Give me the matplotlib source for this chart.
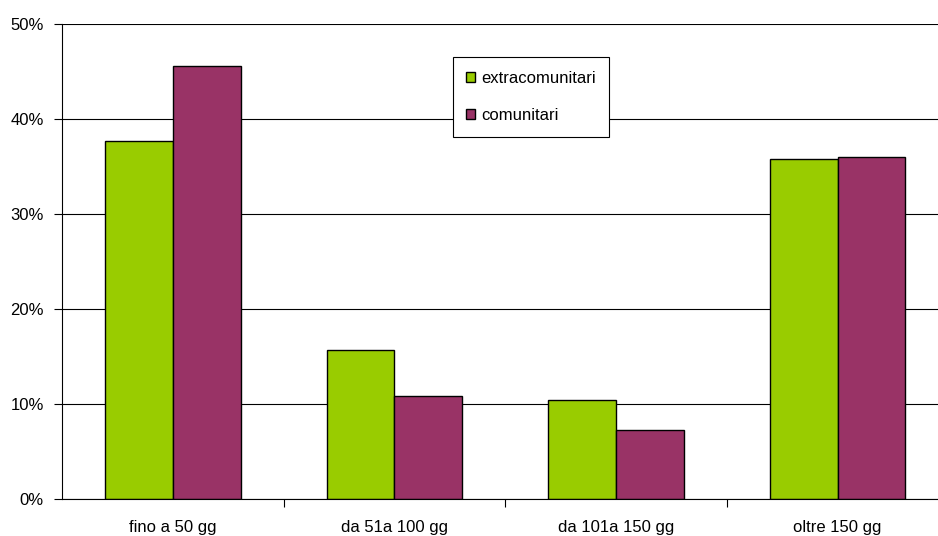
import numpy as np
import matplotlib.pyplot as plt
from matplotlib.ticker import FuncFormatter

plt.rcParams['font.family'] = ['Liberation Sans', 'DejaVu Sans']

categories = ['fino a 50 gg', 'da 51a 100 gg', 'da 101a 150 gg', 'oltre 150 gg']
extracomunitari = [37.7, 15.7, 10.4, 35.8]
comunitari = [45.6, 10.8, 7.3, 36.0]

x = np.arange(len(categories))
w = 0.306

fig = plt.figure(figsize=(9.38, 5.36), dpi=100)
# the plot area runs a little past the right edge of the picture
ax = fig.add_axes([0.066, 0.069, 0.945, 0.886])

ax.set_axisbelow(True)
ax.yaxis.grid(True, color='black', linewidth=0.8)
ax.bar(x - w / 2, extracomunitari, w, color='#99CC00', edgecolor='black', linewidth=1.0, label='extracomunitari')
ax.bar(x + w / 2, comunitari, w, color='#993366', edgecolor='black', linewidth=1.0, label='comunitari')

ax.set_xlim(-0.5, len(categories) - 0.5)
ax.set_ylim(0, 50)
ax.set_yticks(np.arange(0, 51, 10))
ax.yaxis.set_major_formatter(FuncFormatter(lambda v, p: f'{v:.0f}%'))
ax.tick_params(axis='y', length=6, width=0.8, labelsize=12, pad=7)

ax.set_xticks(x)
ax.set_xticklabels(categories, fontsize=12)
ax.set_xticks(np.arange(0.5, len(categories) - 1, 1), minor=True)
ax.tick_params(axis='x', which='major', length=0, pad=15)
ax.tick_params(axis='x', which='minor', length=6, width=0.8)

for s in ['top', 'right']:
    ax.spines[s].set_visible(False)
ax.spines['left'].set_linewidth(0.8)
ax.spines['bottom'].set_linewidth(0.8)

leg = ax.legend(loc='upper left', bbox_to_anchor=(0.441, 0.93), fontsize=12,
                frameon=True, fancybox=False, edgecolor='black', framealpha=1,
                handlelength=0.55, handleheight=0.55, handletextpad=0.35,
                labelspacing=1.35, borderpad=0.8, borderaxespad=0)
leg.get_frame().set_linewidth(0.8)
# widen the box a bit on the right, as in the original
fig.canvas.draw()
bb = leg.get_frame().get_bbox()
leg.get_frame().set_width(bb.width + 18)

fig.savefig('out.png', dpi=100)
